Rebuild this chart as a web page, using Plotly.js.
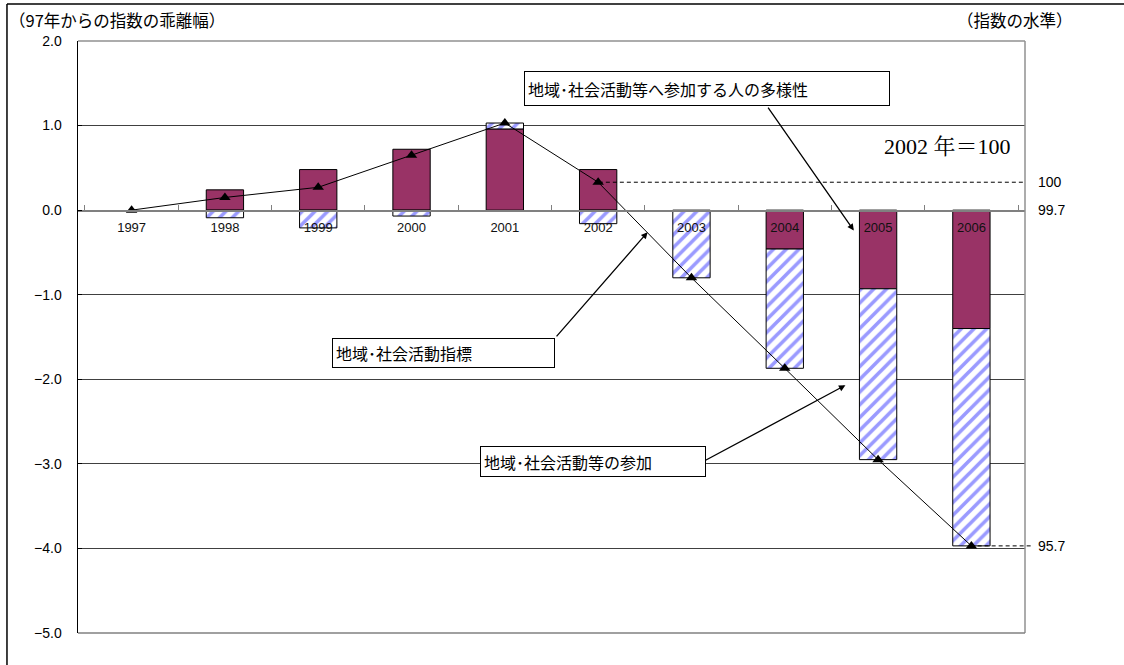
<!DOCTYPE html>
<html>
<head>
<meta charset="utf-8">
<script src="https://cdn.plot.ly/plotly-3.0.1.min.js"></script>
<style>html,body{margin:0;padding:0;background:#fff;}#chart{width:1124px;height:665px;}</style>
</head>
<body>
<div id="chart"></div>
<script>
// ---- data ----
const years = ["1997","1998","1999","2000","2001","2002","2003","2004","2005","2006"];
const diversity = [0.0, 0.24, 0.48, 0.72, 0.96, 0.48, 0.0, -0.46, -0.93, -1.40];      // 地域・社会活動等へ参加する人の多様性
const participation = [0.0, -0.09, -0.21, -0.07, 0.07, -0.16, -0.80, -1.41, -2.02, -2.57]; // 地域・社会活動等の参加
const indexLine = [0.0, 0.15, 0.27, 0.65, 1.03, 0.33, -0.80, -1.87, -2.95, -3.97];    // 地域・社会活動指標
const levelLabels = ["100", "99.7", "95.7"];
const yTicks = [2, 1, 0, -1, -2, -3, -4, -5];
const yTickText = ["2.0", "1.0", "0.0", "\u22121.0", "\u22122.0", "\u22123.0", "\u22124.0", "\u22125.0"];
const yRange = [-5, 2];

const jp = "Noto Sans CJK JP, sans-serif";
const lat = "Liberation Sans, Arial, sans-serif";
const n = years.length;
const px = i => (i + 0.5) / n; // paper x of category centre
const zeroPos = (0 - yRange[0]) / (yRange[1] - yRange[0]);
const noZero = arr => arr.map(v => (v === 0 ? null : v)); // zero-height segments are not drawn

const traces = [
  {type: "bar", x: years, y: noZero(diversity), name: "地域・社会活動等へ参加する人の多様性",
   marker: {color: "#993366", line: {color: "#000", width: 1}}, width: 0.4, hoverinfo: "skip"},
  {type: "bar", x: years, y: noZero(participation), name: "地域・社会活動等の参加",
   marker: {color: "#ffffff", line: {color: "#000", width: 1},
            pattern: {shape: "/", fgcolor: "#9a9aff", bgcolor: "#ffffff", fillmode: "replace", size: 9, solidity: 0.4}},
   width: 0.4, hoverinfo: "skip"},
  {type: "scatter", mode: "lines+markers", x: years, y: indexLine, name: "地域・社会活動指標",
   line: {color: "#000", width: 1}, marker: {symbol: "triangle-up", size: 10, color: "#000"},
   cliponaxis: false, hoverinfo: "skip"}
];

const boxStyle = {showarrow: false, bgcolor: "#fff", bordercolor: "#000", borderwidth: 1, borderpad: 3,
                  align: "left", xref: "paper", yref: "paper", xanchor: "center", yanchor: "middle",
                  font: {family: jp, size: 16, color: "#000"}};
const arrowStyle = {text: "", showarrow: true, arrowhead: 2, arrowsize: 1, arrowwidth: 1.3, arrowcolor: "#000",
                    xref: "x", yref: "y", axref: "x", ayref: "y"};

const annotations = [
  {text: "（97年からの指数の乖離幅）", xref: "paper", yref: "paper", x: -0.075, y: 1.0355, xanchor: "left", yanchor: "middle",
   showarrow: false, font: {family: jp, size: 16.5, color: "#000"}},
  {text: "（指数の水準）", xref: "paper", yref: "paper", x: 1.053, y: 1.0355, xanchor: "right", yanchor: "middle",
   showarrow: false, font: {family: jp, size: 16.5, color: "#000"}},
  {text: "2002 年＝100", xref: "paper", yref: "paper", x: 0.987, y: 0.8226, xanchor: "right", yanchor: "middle",
   showarrow: false, font: {family: "Liberation Serif, Noto Serif CJK JP, serif", size: 22, color: "#000"}},
  {text: levelLabels[0], xref: "paper", yref: "y", x: 1.0116, y: indexLine[5], xanchor: "left", yanchor: "middle",
   showarrow: false, font: {family: lat, size: 14, color: "#000"}},
  {text: levelLabels[1], xref: "paper", yref: "y", x: 1.0116, y: 0, xanchor: "left", yanchor: "middle",
   showarrow: false, font: {family: lat, size: 14, color: "#000"}},
  {text: levelLabels[2], xref: "paper", yref: "y", x: 1.0116, y: indexLine[9], xanchor: "left", yanchor: "middle",
   showarrow: false, font: {family: lat, size: 14, color: "#000"}},
  // arrows
  Object.assign({}, arrowStyle, {x: 7.74, y: -0.24, ax: 6.81, ay: 1.23}),
  Object.assign({}, arrowStyle, {x: 5.53, y: -0.26, ax: 4.54, ay: -1.51}),
  Object.assign({}, arrowStyle, {x: 7.65, y: -2.07, ax: 6.13, ay: -2.97}),
  // boxes
  Object.assign({}, boxStyle, {text: "地域･社会活動等へ参加する人の多様性", x: 0.6637, y: 0.9198, width: 358, height: 27}),
  Object.assign({}, boxStyle, {text: "地域･社会活動指標", x: 0.386, y: 0.473, width: 215, height: 22}),
  Object.assign({}, boxStyle, {text: "地域･社会活動等の参加", x: 0.5438, y: 0.2897, width: 218, height: 23})
];

const shapes = [
  // dashed level lines
  {type: "line", xref: "paper", yref: "y", x0: px(5), x1: 1, y0: indexLine[5], y1: indexLine[5],
   line: {color: "#000", width: 1, dash: "4px,3px"}},
  {type: "line", xref: "paper", yref: "y", x0: px(9), x1: 1.006, y0: indexLine[9], y1: indexLine[9],
   line: {color: "#000", width: 1, dash: "4px,3px"}},
  // plot border (gray)
  {type: "line", xref: "paper", yref: "paper", x0: 0, x1: 1, y0: 1, y1: 1, line: {color: "#909090", width: 1.5}, layer: "above"},
  {type: "line", xref: "paper", yref: "paper", x0: 1, x1: 1, y0: 0, y1: 1, line: {color: "#909090", width: 1.5}, layer: "above"},
  {type: "line", xref: "paper", yref: "paper", x0: 0, x1: 1, y0: 0, y1: 0, line: {color: "#808080", width: 1.5}, layer: "above"},
  // outer frame
  {type: "line", xref: "paper", yref: "paper", x0: -0.075, x1: 1.2, y0: 1.0625, y1: 1.0625, line: {color: "#000", width: 1.5}},
  {type: "line", xref: "paper", yref: "paper", x0: -0.075, x1: -0.075, y0: 1.0625, y1: -0.1, line: {color: "#000", width: 1.5}}
];

const layout = {
  width: 1124, height: 665,
  margin: {l: 78, r: 99, t: 41, b: 32, pad: 0},
  paper_bgcolor: "#fff", plot_bgcolor: "#fff",
  showlegend: false,
  barmode: "relative",
  xaxis: {type: "category", anchor: "free", position: zeroPos, showgrid: false, zeroline: false,
          showline: true, linecolor: "#808080", linewidth: 1.5,
          ticks: "inside", tickson: "boundaries", ticklen: 5, tickcolor: "#808080",
          ticklabelstandoff: 5, tickfont: {family: lat, size: 13, color: "#111"}, fixedrange: true},
  yaxis: {range: yRange, tickvals: yTicks, ticktext: yTickText, showgrid: true, gridcolor: "#404040", gridwidth: 1,
          zeroline: false, showline: true, linecolor: "#000", linewidth: 1.5,
          ticks: "inside", ticklen: 4, tickcolor: "#000", ticklabelstandoff: 12,
          tickfont: {family: lat, size: 14, color: "#000"}, fixedrange: true},
  annotations: annotations,
  shapes: shapes
};

Plotly.newPlot("chart", traces, layout, {displayModeBar: false, staticPlot: true});
</script>
</body>
</html>
